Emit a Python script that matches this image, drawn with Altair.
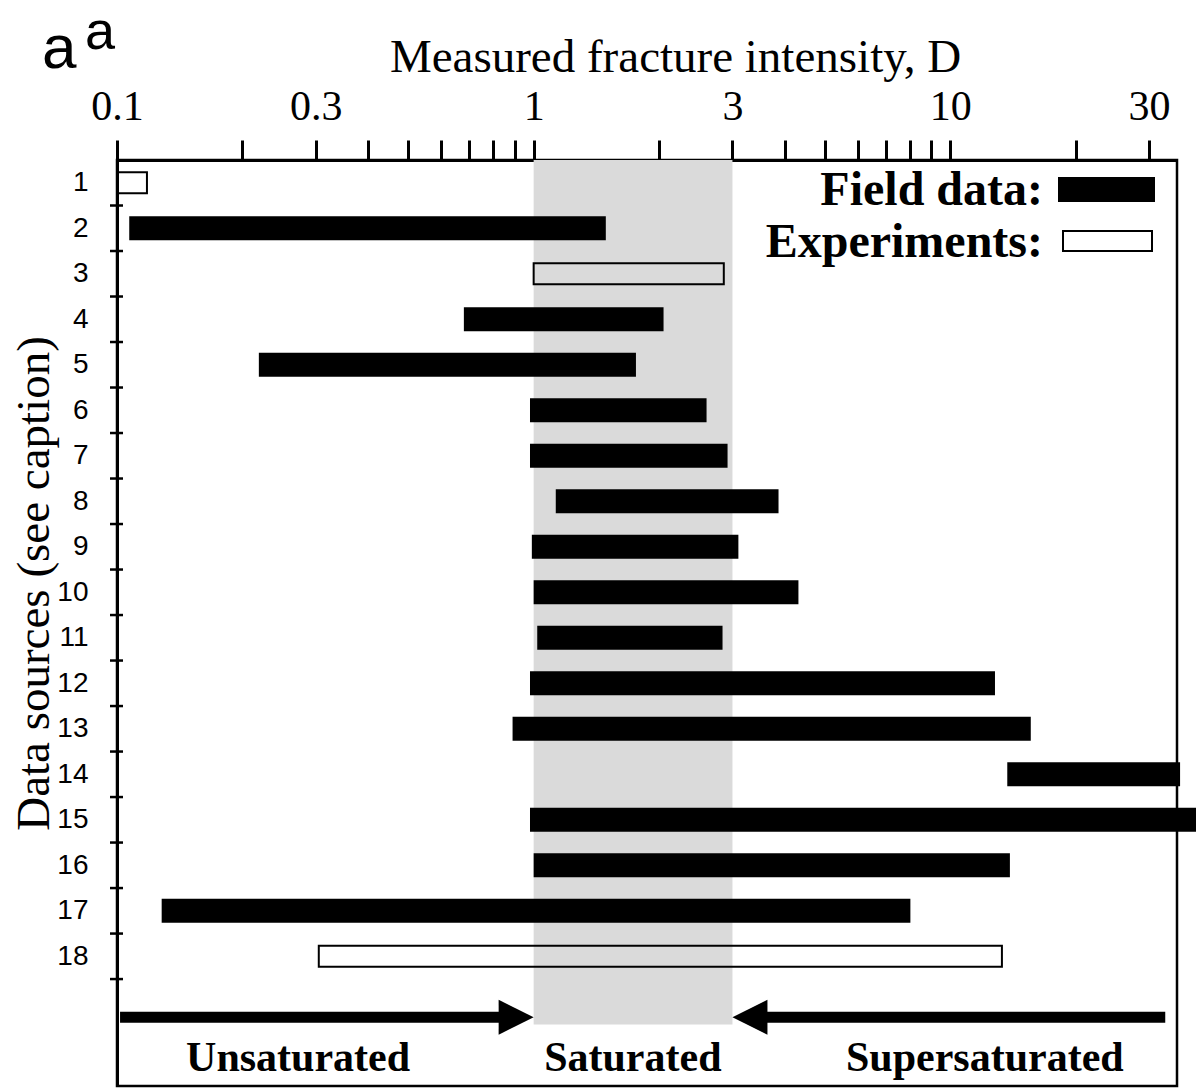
import altair as alt
import pandas as pd

# ---------------- data ----------------
rows = list(range(1, 19))
kinds = ["Experiments", "Field", "Experiments", "Field", "Field", "Field",
         "Field", "Field", "Field", "Field", "Field", "Field", "Field",
         "Field", "Field", "Field", "Field", "Experiments"]
d_low = [0.10, 0.107, 1.00, 0.68, 0.219, 0.98, 0.98, 1.13, 0.99, 1.00,
         1.02, 0.98, 0.89, 13.7, 0.98, 1.00, 0.128, 0.305]
d_high = [0.118, 1.49, 2.86, 2.05, 1.76, 2.60, 2.92, 3.87, 3.10, 4.32,
          2.84, 12.8, 15.6, 35.6, 45.0, 13.9, 8.02, 13.3]

band_lo = [1.0]
band_hi = [3.0]
band_top = [0.5]
band_bottom = [19.5]

x_tick_values = [0.1, 0.2, 0.3, 0.4, 0.5, 0.6, 0.7, 0.8, 0.9,
                 1, 2, 3, 4, 5, 6, 7, 8, 9, 10, 20, 30]
x_label_values = ["0.1", "0.3", "1", "3", "10", "30"]
y_tick_positions = [r + 0.5 for r in rows]

arrow_y = [19.34, 19.34]
arrow_start = [0.1017, 32.8]
arrow_tip = [1.0, 3.0]

region_labels = ["Unsaturated", "Saturated", "Supersaturated"]
region_x = [0.272, 1.73, 12.1]
region_y = [20.52, 20.52, 20.52]

# ---------------- frames ----------------
bars = pd.DataFrame({"row": rows, "kind": kinds, "lo": d_low, "hi": d_high})
field = bars[bars.kind == "Field"]
exper = bars[bars.kind == "Experiments"]
band = pd.DataFrame({"lo": band_lo, "hi": band_hi, "top": band_top, "bottom": band_bottom})
yticks = pd.DataFrame({"y": y_tick_positions})
arrows = pd.DataFrame({"y": arrow_y, "start": arrow_start, "tip": arrow_tip})
regions = pd.DataFrame({"label": region_labels, "x": region_x, "y": region_y})
one = pd.DataFrame({"k": [0]})

xs = alt.Scale(type="log", domain=[0.1, 35], nice=False)
ys = alt.Scale(domain=[0.5, 20.85], reverse=True, nice=False, zero=False)

label_list = "[" + ",".join("'%s'" % v for v in x_label_values) + "]"

x_axis = alt.Axis(
    orient="top", values=x_tick_values, format="~g",
    labelExpr="indexof(" + label_list + ", datum.label) >= 0 ? datum.label : ''",
    labelOverlap=False, labelFlush=False, labelFont="Liberation Serif",
    labelFontSize=42, labelColor="black", labelBaseline="alphabetic",
    labelPadding=21,
    tickSize=20, tickWidth=3, tickColor="black",
    domainColor="black", domainWidth=3, grid=False,
    title="Measured fracture intensity, D", titleFont="Liberation Serif",
    titleFontSize=47, titleFontWeight="normal", titleColor="black",
    titleBaseline="alphabetic", titleAlign="center", titleX=558, titleY=-89,
)
y_axis = alt.Axis(
    values=rows, ticks=False, tickSize=0, labelPadding=29,
    labelFont="Liberation Sans", labelFontSize=28, labelColor="black",
    labelBaseline="middle", domainColor="black", domainWidth=3, grid=False,
    title="Data sources (see caption)", titleFont="Liberation Serif",
    titleFontSize=47, titleFontWeight="normal", titleColor="black",
    titleAngle=270, titleBaseline="alphabetic", titleAlign="center",
    titleX=-69, titleY=423,
)

band_layer = alt.Chart(band).mark_rect(fill="#dadada").encode(
    x=alt.X("lo:Q", scale=xs, axis=x_axis),
    x2="hi:Q",
    y=alt.Y("top:Q", scale=ys, axis=y_axis),
    y2="bottom:Q",
)

field_layer = alt.Chart(field).mark_rect(fill="black", yOffset=-12, y2Offset=12).encode(
    x=alt.X("lo:Q", scale=xs), x2="hi:Q",
    y=alt.Y("row:Q", scale=ys), y2="row:Q",
)

exp_layer = alt.Chart(exper).mark_rect(
    fill="transparent", stroke="black", strokeWidth=2, yOffset=-10.5, y2Offset=10.5
).encode(
    x=alt.X("lo:Q", scale=xs), x2="hi:Q",
    y=alt.Y("row:Q", scale=ys), y2="row:Q",
)

ytick_layer = alt.Chart(yticks).mark_rule(color="black", strokeWidth=2.5).encode(
    x=alt.value(-7), x2=alt.value(6), y=alt.Y("y:Q", scale=ys),
)

arrow_left = alt.Chart(arrows.iloc[[0]]).mark_rule(
    color="black", strokeWidth=11, strokeCap="butt", x2Offset=-34
).encode(x=alt.X("start:Q", scale=xs), x2="tip:Q", y=alt.Y("y:Q", scale=ys))

arrow_right = alt.Chart(arrows.iloc[[1]]).mark_rule(
    color="black", strokeWidth=11, strokeCap="butt", x2Offset=34
).encode(x=alt.X("start:Q", scale=xs), x2="tip:Q", y=alt.Y("y:Q", scale=ys))

head_left = alt.Chart(arrows.iloc[[0]]).mark_point(
    shape="M-1,-1L1,0L-1,1Z", size=1225, filled=True, color="black",
    opacity=1, strokeWidth=0, xOffset=-17.5
).encode(x=alt.X("tip:Q", scale=xs), y=alt.Y("y:Q", scale=ys))

head_right = alt.Chart(arrows.iloc[[1]]).mark_point(
    shape="M1,-1L-1,0L1,1Z", size=1225, filled=True, color="black",
    opacity=1, strokeWidth=0, xOffset=17.5
).encode(x=alt.X("tip:Q", scale=xs), y=alt.Y("y:Q", scale=ys))

region_layer = alt.Chart(regions).mark_text(
    font="Liberation Serif", fontSize=42, fontWeight="bold", color="black",
    align="center", baseline="alphabetic"
).encode(x=alt.X("x:Q", scale=xs), y=alt.Y("y:Q", scale=ys), text="label:N")

# legend (drawn by hand, top-right inside the frame)
leg_field_box = alt.Chart(one).mark_rect(fill="black").encode(
    x=alt.value(941), x2=alt.value(1038), y=alt.value(17), y2=alt.value(42))
leg_exp_box = alt.Chart(one).mark_rect(fill="white", stroke="black", strokeWidth=2).encode(
    x=alt.value(946), x2=alt.value(1035), y=alt.value(71), y2=alt.value(91))
leg_field_txt = alt.Chart(one).mark_text(
    text="Field data:", font="Liberation Serif", fontSize=48, fontWeight="bold",
    color="black", align="right", baseline="alphabetic"
).encode(x=alt.value(926), y=alt.value(45))
leg_exp_txt = alt.Chart(one).mark_text(
    text="Experiments:", font="Liberation Serif", fontSize=48, fontWeight="bold",
    color="black", align="right", baseline="alphabetic"
).encode(x=alt.value(926), y=alt.value(97))

panel_a1 = alt.Chart(one).mark_text(
    text="a", font="Liberation Sans", fontSize=62, color="black",
    align="left", baseline="alphabetic"
).encode(x=alt.value(-75), y=alt.value(-92))
panel_a2 = alt.Chart(one).mark_text(
    text="a", font="Liberation Sans", fontSize=54, color="black",
    align="left", baseline="alphabetic"
).encode(x=alt.value(-32), y=alt.value(-111))

chart = alt.layer(
    band_layer, field_layer, exp_layer, ytick_layer,
    arrow_left, arrow_right, head_left, head_right, region_layer,
    leg_field_box, leg_exp_box, leg_field_txt, leg_exp_txt,
    panel_a1, panel_a2,
).properties(
    width=1060, height=926,
    autosize=alt.AutoSizeParams(type="none"),
    padding={"left": 117, "top": 160, "right": 19, "bottom": 2},
    background="white",
).configure_view(stroke="black", strokeWidth=2.5)

chart.save("out.html", embed_options={"renderer": "svg", "actions": False})
